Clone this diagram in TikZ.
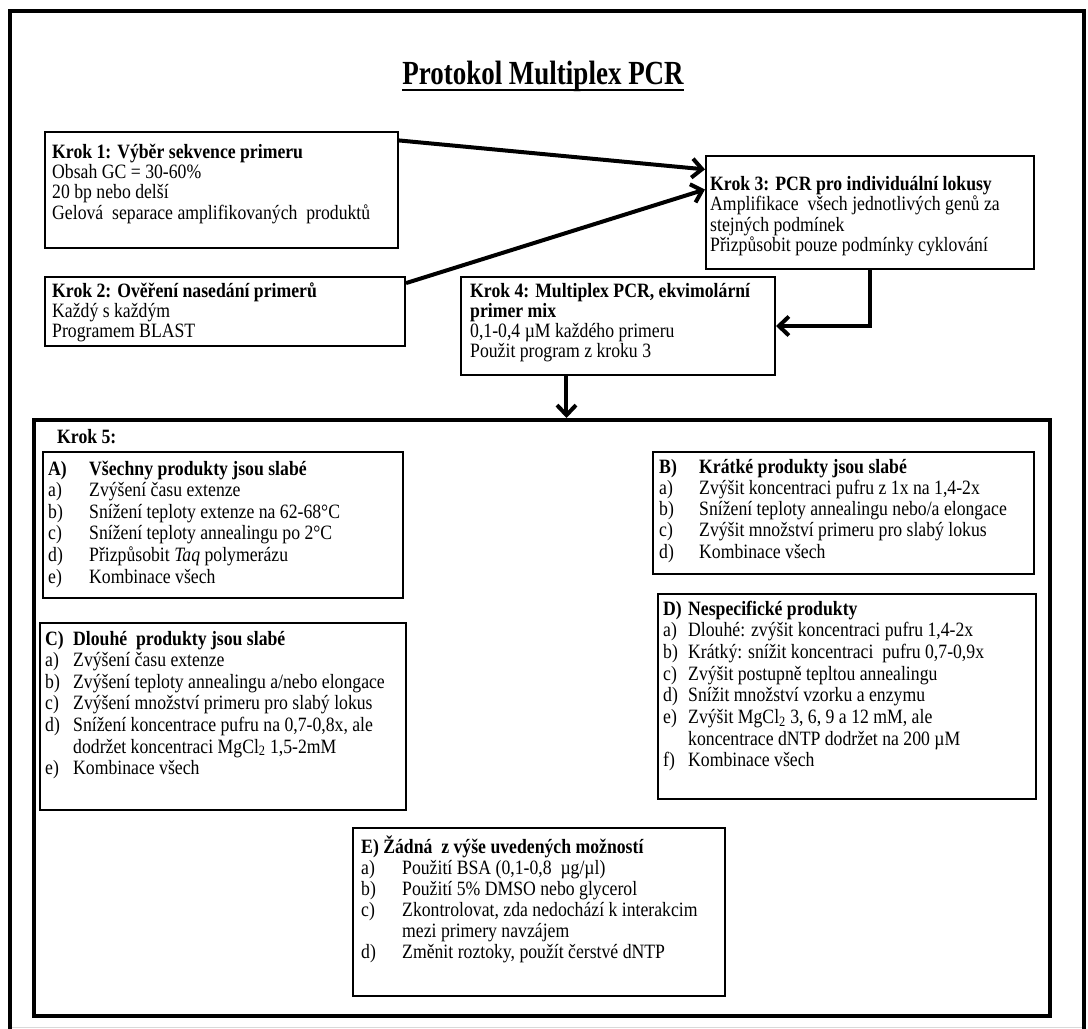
\documentclass[tikz,border=0pt]{standalone}
\usepackage{fontspec}
\setmainfont{Liberation Serif}
\usepackage{graphicx}
\usetikzlibrary{arrows.meta,calc}
\newcommand\lbl[2]{\makebox[#1][l]{#2}}
% #1 = target line distance (px); text stretched vertically by 1.15
\newcommand\mylines[2]{\scalebox{1}[1.15]{\fontsize{17.7}{\dimexpr #1pt*100/115\relax}\selectfont\begin{tabular}[t]{@{}l@{}}#2\end{tabular}}}
\begin{document}
\begin{tikzpicture}[x=1pt,y=-1pt,
  box/.style={draw=black, line width=2pt, rectangle, inner sep=0pt, anchor=north west},
  bigbox/.style={box, line width=4pt},
  txt/.style={anchor=base west, inner sep=0pt},
  conn/.style={line width=4pt, -{Straight Barb[length=10pt,width=19pt]}}
]
\useasboundingbox (0,0) rectangle (1088,1029);
\fill[white] (0,0) rectangle (1088,1029);
% outer frame
\draw[line width=3.5pt] (10,1029) -- (10,11) -- (1084,11) -- (1084,1029);
\draw[black!15, line width=1pt] (12,1027) -- (1082,1027);

% title
\node[anchor=base, inner sep=0pt] (title) at (543,84)
  {\fontsize{27}{30}\selectfont\bfseries\scalebox{1}[1.25]{Protokol Multiplex PCR}};
\draw[line width=2.2pt] ([yshift=-6pt]title.base west) -- ([yshift=-6pt]title.base east);

% step boxes
\node[box, minimum width=353pt, minimum height=116pt] (k1) at (44,131) {};
\node[box, minimum width=360pt, minimum height=69pt] (k2) at (44,276) {};
\node[box, minimum width=328pt, minimum height=113pt] (k3) at (705,155) {};
\node[box, minimum width=314pt, minimum height=98pt] (k4) at (460,276) {};
\node[bigbox, minimum width=1016pt, minimum height=596pt] (k5) at (32,418) {};

\node[txt] (t1) at (52,158) {\mylines{20.4}{\textbf{Krok 1: Výběr sekvence primeru}\\
  Obsah GC = 30-60\%\\ 20 bp nebo delší\\ Gelová\ \ separace amplifikovaných\ \ produktů}};
\node[txt] (t2) at (52,297) {\mylines{20.4}{\textbf{Krok 2: Ověření nasedání primerů}\\
  Každý s každým\\ Programem BLAST}};
\node[txt] (t3) at (710,190) {\mylines{20.2}{\textbf{Krok 3: PCR pro individuální lokusy}\\
  Amplifikace\ \ všech jednotlivých genů za\\ stejných podmínek\\ Přizpůsobit pouze podmínky cyklování}};
\node[txt] (t4) at (470,297) {\mylines{20.3}{\textbf{Krok 4: Multiplex PCR, ekvimolární}\\
  \textbf{primer mix}\\ 0,1-0,4 µM každého primeru\\ Použit program z kroku 3}};

% connectors
\draw[conn] ($(k1.north east)!0.08!(k1.south east)$) -- ($(k3.north west)!0.125!(k3.south west)$);
\draw[conn] ($(k2.north east)!0.1!(k2.south east)$) -- ($(k3.north west)!0.3!(k3.south west)$);
\draw[conn] (k3.south) |- (k4.east);
\coordinate (a4) at ($(k4.south west)!0.337!(k4.south east)$);
\draw[conn] (a4) -- (a4 |- k5.north);

% Krok 5 contents
\node[txt] (t5) at (57,443) {\scalebox{1}[1.15]{\fontsize{17.7}{21}\selectfont\textbf{Krok 5:}}};

\node[box, minimum width=360pt, minimum height=146pt] (bA) at (42,451) {};
\node[box, minimum width=381pt, minimum height=122pt] (bB) at (652,451) {};
\node[box, minimum width=366pt, minimum height=187pt] (bC) at (39,622) {};
\node[box, minimum width=378pt, minimum height=205pt] (bD) at (657,593) {};
\node[box, minimum width=372pt, minimum height=168pt] (bE) at (352,827) {};

\node[txt] (tA) at (48,475) {\mylines{21.6}{%
  \lbl{41pt}{\textbf{A)}}\textbf{Všechny produkty jsou slabé}\\
  \lbl{41pt}{a)}Zvýšení času extenze\\
  \lbl{41pt}{b)}Snížení teploty extenze na 62-68°C\\
  \lbl{41pt}{c)}Snížení teploty annealingu po 2°C\\
  \lbl{41pt}{d)}Přizpůsobit \textit{Taq} polymerázu\\
  \lbl{41pt}{e)}Kombinace všech}};

\node[txt] (tB) at (659,473) {\mylines{21.3}{%
  \lbl{40pt}{\textbf{B)}}\textbf{Krátké produkty jsou slabé}\\
  \lbl{40pt}{a)}Zvýšit koncentraci pufru z 1x na 1,4-2x\\
  \lbl{40pt}{b)}Snížení teploty annealingu nebo/a elongace\\
  \lbl{40pt}{c)}Zvýšit množství primeru pro slabý lokus\\
  \lbl{40pt}{d)}Kombinace všech}};

\node[txt] (tC) at (45,645) {\mylines{21.6}{%
  \lbl{28pt}{\textbf{C)}}\textbf{Dlouhé\ \ produkty jsou slabé}\\
  \lbl{28pt}{a)}Zvýšení času extenze\\
  \lbl{28pt}{b)}Zvýšení teploty annealingu a/nebo elongace\\
  \lbl{28pt}{c)}Zvýšení množství primeru pro slabý lokus\\
  \lbl{28pt}{d)}Snížení koncentrace pufru na 0,7-0,8x,\ ale\\
  \lbl{28pt}{}dodržet koncentraci MgCl\textsubscript{2} 1,5-2mM\\
  \lbl{28pt}{e)}Kombinace všech}};

\node[txt] (tD) at (663,615) {\mylines{21.7}{%
  \lbl{25pt}{\textbf{D)}}\textbf{Nespecifické produkty}\\
  \lbl{25pt}{a)}Dlouhé: zvýšit koncentraci pufru 1,4-2x\\
  \lbl{25pt}{b)}Krátký: snížit koncentraci\ \ pufru 0,7-0,9x\\
  \lbl{25pt}{c)}Zvýšit postupně tepltou annealingu\\
  \lbl{25pt}{d)}Snížit množství vzorku a enzymu\\
  \lbl{25pt}{e)}Zvýšit MgCl\textsubscript{2} 3, 6, 9 a 12 mM, ale\\
  \lbl{25pt}{}koncentrace dNTP dodržet na 200 µM\\
  \lbl{25pt}{f)}Kombinace všech}};

\node[txt] (tE) at (361,853) {\mylines{21.1}{%
  \textbf{E) Žádná\ \ z výše uvedených možností}\\
  \lbl{41pt}{a)}Použití BSA (0,1-0,8\ \ µg/µl)\\
  \lbl{41pt}{b)}Použití 5\% DMSO nebo glycerol\\
  \lbl{41pt}{c)}Zkontrolovat, zda nedochází k interakcim\\
  \lbl{41pt}{}mezi primery navzájem\\
  \lbl{41pt}{d)}Změnit roztoky, použít čerstvé dNTP}};
\end{tikzpicture}
\end{document}
